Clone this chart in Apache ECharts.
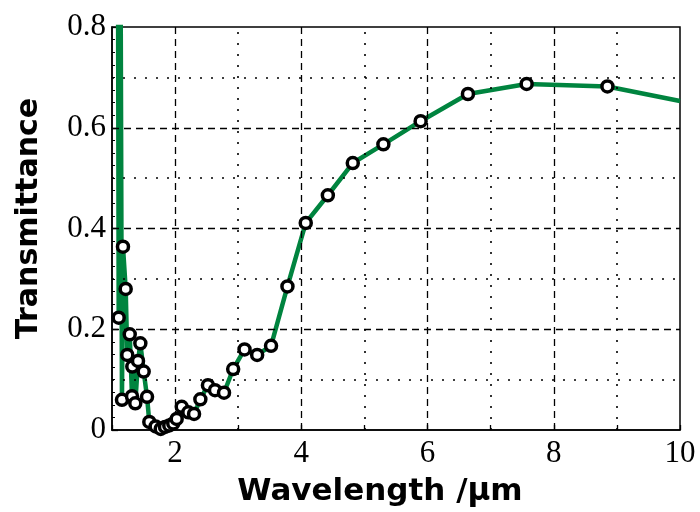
<!DOCTYPE html>
<html>
<head>
<meta charset="utf-8">
<script src="https://cdn.jsdelivr.net/npm/echarts@6/dist/echarts.min.js"></script>
<style>
  html, body { margin: 0; padding: 0; background: #fff; }
  #chart { width: 700px; height: 512px; }
</style>
</head>
<body>
<div id="chart"></div>
<script>
// Measured samples (open circles)
const sampleWavelength = [1.106, 1.158, 1.174, 1.217, 1.242, 1.281, 1.317, 1.322, 1.369, 1.412,
  1.449, 1.502, 1.555, 1.591, 1.692, 1.772, 1.84, 1.908, 1.971, 2.025,
  2.105, 2.21, 2.30, 2.40, 2.52, 2.632, 2.775, 2.92, 3.10, 3.30,
  3.52, 3.78, 4.07, 4.42, 4.815, 5.30, 5.89, 6.64, 7.57, 8.85];
const sampleTransmittance = [0.223, 0.060, 0.364, 0.280, 0.149, 0.190, 0.067, 0.126, 0.053, 0.137,
  0.172, 0.116, 0.066, 0.016, 0.007, 0.002, 0.006, 0.009, 0.013, 0.022,
  0.046, 0.035, 0.032, 0.061, 0.089, 0.079, 0.074, 0.121, 0.160, 0.149,
  0.167, 0.285, 0.411, 0.466, 0.530, 0.567, 0.613, 0.667, 0.687, 0.682];

// Continuous spectrum trace (green line)
const traceWavelength = [1.095, 1.106, 1.135, 1.158, 1.174, 1.217, 1.242, 1.281, 1.317, 1.322,
  1.369, 1.412, 1.449, 1.502, 1.555, 1.591, 1.692, 1.772, 1.84, 1.908,
  1.971, 2.025, 2.105, 2.21, 2.30, 2.40, 2.52, 2.632, 2.775, 2.92,
  3.10, 3.30, 3.52, 3.78, 4.07, 4.42, 4.815, 5.30, 5.89, 6.64,
  7.57, 8.85, 10.0];
const traceTransmittance = [0.95, 0.223, 0.95, 0.060, 0.364, 0.280, 0.149, 0.190, 0.067, 0.126,
  0.053, 0.137, 0.172, 0.116, 0.066, 0.016, 0.007, 0.002, 0.006, 0.009,
  0.013, 0.022, 0.046, 0.035, 0.032, 0.061, 0.089, 0.079, 0.074, 0.121,
  0.160, 0.149, 0.167, 0.285, 0.411, 0.466, 0.530, 0.567, 0.613, 0.667,
  0.687, 0.682, 0.653];

// Axis ranges and grid positions
const xRange = [1, 10];
const yRange = [0, 0.8];
const xMajorGrid = [2, 4, 6, 8];
const xMinorGrid = [3, 5, 7, 9];
const yMajorGrid = [0.2, 0.4, 0.6];
const yMinorGrid = [0.1, 0.3, 0.5, 0.7];

const zip = (xs, ys) => xs.map((x, i) => [x, ys[i]]);

const dashed = { color: '#000', width: 1.3, type: [7, 5] };
const dotted = { color: '#000', width: 1.6, type: [2, 9] };

const gridLines = [
  ...xMajorGrid.map(v => ({ xAxis: v, lineStyle: dashed })),
  ...xMinorGrid.map(v => ({ xAxis: v, lineStyle: dotted })),
  ...yMajorGrid.map(v => ({ yAxis: v, lineStyle: dashed })),
  ...yMinorGrid.map(v => ({ yAxis: v, lineStyle: dotted }))
];

const serif = 'Liberation Serif';
const sans = 'DejaVu Sans';

const chart = echarts.init(document.getElementById('chart'), null, { renderer: 'canvas' });
chart.setOption({
  animation: false,
  backgroundColor: '#fff',
  grid: {
    left: 112, right: 20, top: 27, bottom: 79,
    show: true, borderColor: '#000', borderWidth: 1.5, backgroundColor: 'transparent'
  },
  xAxis: {
    type: 'value', min: xRange[0], max: xRange[1], interval: 1,
    name: 'Wavelength /\u03bcm', nameLocation: 'middle', nameGap: 46,
    nameTextStyle: { fontFamily: sans, fontWeight: 'bold', fontSize: 31, color: '#000', padding: [0, 32, 0, 0] },
    axisLine: { show: true, onZero: false, lineStyle: { color: '#000', width: 1.5 } },
    axisTick: { show: true, inside: true, length: 5, lineStyle: { color: '#000', width: 1.3 } },
    axisLabel: {
      fontFamily: serif, fontSize: 31, color: '#000', margin: 8,
      formatter: v => (v % 2 === 0 ? String(v) : '')
    },
    splitLine: { show: false }
  },
  yAxis: {
    type: 'value', min: yRange[0], max: yRange[1], interval: 0.2,
    name: 'Transmittance', nameLocation: 'middle', nameGap: 68,
    nameTextStyle: { fontFamily: sans, fontWeight: 'bold', fontSize: 30, color: '#000', padding: [0, 0, 0, 20] },
    axisLine: { show: true, onZero: false, lineStyle: { color: '#000', width: 1.5 } },
    axisTick: { show: true, inside: true, length: 6, lineStyle: { color: '#000', width: 1.3 } },
    minorTick: { show: true, splitNumber: 8, length: 3, lineStyle: { color: '#000', width: 1 } },
    axisLabel: {
      fontFamily: serif, fontSize: 31, color: '#000', margin: 6,
      formatter: v => (v === 0 ? '0' : v.toFixed(1))
    },
    splitLine: { show: false }
  },
  series: [
    {
      name: 'grid', type: 'line', data: [], z: 1, silent: true,
      markLine: { silent: true, symbol: ['none', 'none'], label: { show: false }, data: gridLines, animation: false }
    },
    {
      name: 'spectrum', type: 'line', data: zip(traceWavelength, traceTransmittance),
      showSymbol: false, z: 3, clip: true,
      lineStyle: { color: '#00843f', width: 4.5, join: 'round' }
    },
    {
      name: 'samples', type: 'scatter', data: zip(sampleWavelength, sampleTransmittance),
      symbol: 'circle', symbolSize: 11, z: 5,
      itemStyle: { color: '#fff', borderColor: '#000', borderWidth: 3.5, opacity: 1 }
    }
  ]
});
</script>
</body>
</html>
